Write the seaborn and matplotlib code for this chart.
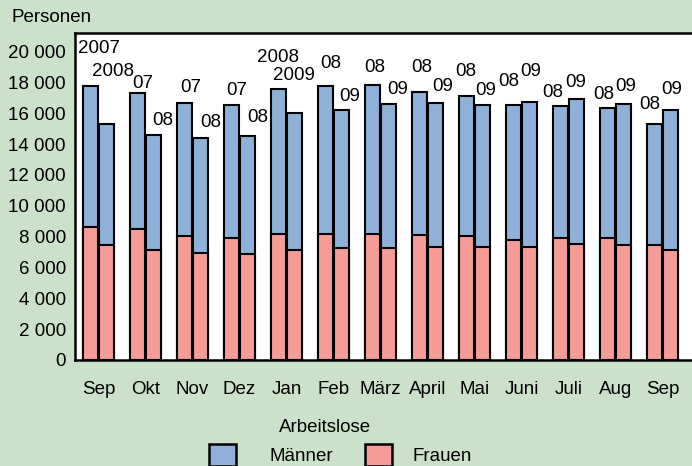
import numpy as np
import pandas as pd
import matplotlib
matplotlib.use("Agg")
import matplotlib.pyplot as plt
import seaborn as sns
from matplotlib.ticker import FuncFormatter
from matplotlib.patches import Patch

# Arbeitslose je Monat: Vorjahr (links) und laufendes Jahr (rechts)
months = ["Sep", "Okt", "Nov", "Dez", "Jan", "Feb", "März", "April",
          "Mai", "Juni", "Juli", "Aug", "Sep"]
total_prev = [17750, 17300, 16650, 16500, 17550, 17750, 17850, 17350,
              17100, 16550, 16450, 16350, 15300]
total_curr = [15300, 14600, 14400, 14550, 16000, 16200, 16600, 16650,
              16550, 16700, 16900, 16600, 16200]
frauen_prev = [8650, 8500, 8050, 7900, 8200, 8150, 8200, 8100,
               8050, 7750, 7900, 7900, 7450]
frauen_curr = [7450, 7100, 6950, 6850, 7150, 7250, 7250, 7350,
               7350, 7350, 7550, 7450, 7150]
year_prev = ["2007", "07", "07", "07", "2008", "08", "08", "08",
             "08", "08", "08", "08", "08"]
year_curr = ["2008", "08", "08", "08", "2009", "09", "09", "09",
             "09", "09", "09", "09", "09"]

# label nudges in pixels (dx, dy above bar top)
nudge_prev = [(8.5, 38), (5.5, 10), (6, 16), (5.5, 15), (-0.5, 32), (5, 23), (2, 17),
              (2, 25), (-0.5, 25), (-4.5, 23), (-7.5, 14), (-3.5, 13), (-4.5, 20)]
nudge_curr = [(6.5, 53), (9.5, 14), (10, 15), (10.5, 18), (-1, 38), (8.5, 14), (9.5, 14),
              (7.5, 17), (3.5, 14), (1.5, 31), (-0.5, 17), (2.5, 17), (1.5, 21)]

BLUE = "#8fb1d9"
RED = "#f59c97"
GREEN = "#cbe1c9"

sns.set_theme(style="white")
plt.rcParams["font.family"] = ["Liberation Sans", "DejaVu Sans"]
plt.rcParams["text.color"] = "black"
plt.rcParams["xtick.color"] = "black"
plt.rcParams["ytick.color"] = "black"
FS = 13.5

slots = [str(i) for i in range(len(months))]
df = pd.DataFrame({
    "slot": slots * 2,
    "period": ["prev"] * len(months) + ["curr"] * len(months),
    "total": total_prev + total_curr,
    "frauen": frauen_prev + frauen_curr,
})

fig = plt.figure(figsize=(6.92, 4.66), dpi=100, facecolor=GREEN)
ax = fig.add_axes([75 / 692, 106 / 466, 617 / 692, 327 / 466])
ax.set_facecolor("white")

common = dict(data=df, x="slot", hue="period", order=slots, hue_order=["prev", "curr"],
              width=0.68, gap=0.06, edgecolor="black", linewidth=1.5, saturation=1,
              errorbar=None, legend=False, ax=ax)
sns.barplot(y="total", palette=[BLUE, BLUE], **common)
sns.barplot(y="frauen", palette=[RED, RED], **common)

# year labels above the total bars
for cont, labels, nudges in [(ax.containers[0], year_prev, nudge_prev),
                             (ax.containers[1], year_curr, nudge_curr)]:
    for bar, lab, (dx, dy) in zip(cont, labels, nudges):
        ax.annotate(lab, (bar.get_x() + bar.get_width() / 2, bar.get_height()),
                    xytext=(dx, dy), textcoords="offset pixels",
                    ha="center", va="center", fontsize=FS, color="black")

ax.set_xlim(-0.5, -0.5 + 13 * 617 / 611)
ax.set_ylim(0, 21200)
ax.set_xlabel("")
ax.set_ylabel("")

ax.set_xticks(np.arange(-0.5, len(months), 1))
ax.set_xticklabels([])
ax.set_xticks(np.arange(len(months)), minor=True)
ax.set_xticklabels(months, minor=True, fontsize=FS)
ax.tick_params(axis="x", which="major", direction="inout", length=9, width=1.5, color="black")
ax.tick_params(axis="x", which="minor", length=0, pad=15)

ax.set_yticks(np.arange(0, 20001, 2000))
ax.yaxis.set_major_formatter(FuncFormatter(lambda v, p: f"{v:,.0f}".replace(",", " ")))
ax.tick_params(axis="y", direction="inout", length=9, width=1.5, color="black",
               labelsize=FS, pad=2)

for side in ["left", "bottom", "top"]:
    ax.spines[side].set_visible(True)
    ax.spines[side].set_color("black")
    ax.spines[side].set_linewidth(1.8)
ax.spines["right"].set_visible(False)

fig.text(12 / 692, 1 - 18 / 466, "Personen", ha="left", va="center", fontsize=FS)

# legend: title plus two entries placed separately
fig.text(325 / 692, 1 - 428 / 466, "Arbeitslose", ha="center", va="center", fontsize=FS)
leg_kw = dict(loc="center left", frameon=False, fontsize=FS, handlelength=1.44,
              handleheight=1.5, borderpad=0, borderaxespad=0)
fig.legend(handles=[Patch(facecolor=BLUE, edgecolor="black", linewidth=1.8, label="Männer")],
           bbox_to_anchor=(209 / 692, 1 - 455 / 466), handletextpad=1.8, **leg_kw)
fig.legend(handles=[Patch(facecolor=RED, edgecolor="black", linewidth=1.8, label="Frauen")],
           bbox_to_anchor=(365 / 692, 1 - 455 / 466), handletextpad=1.1, **leg_kw)

fig.savefig("out.png", dpi=100, facecolor=GREEN)
